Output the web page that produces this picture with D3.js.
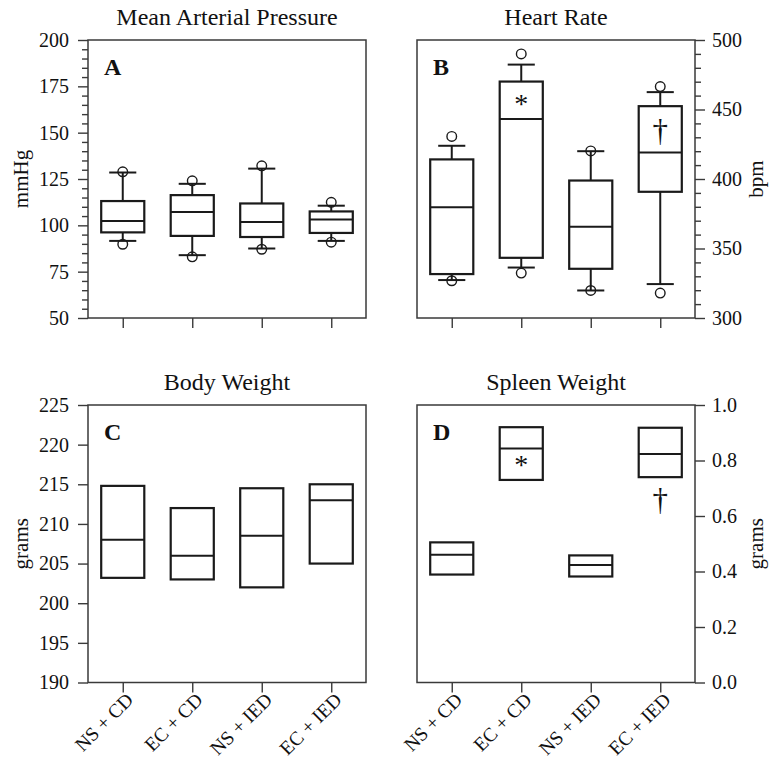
<!DOCTYPE html>
<html>
<head>
<meta charset="utf-8">
<script src="https://cdn.jsdelivr.net/npm/d3@7"></script>
<style>
  html, body { margin: 0; padding: 0; background: #fff; }
  svg { display: block; }
  text { font-family: "Liberation Serif", "Times New Roman", serif; fill: #111; }
</style>
</head>
<body>
<svg id="chart" width="771" height="761"></svg>
<script>
// ---------- DATA ----------
const groups = ["NS + CD", "EC + CD", "NS + IED", "EC + IED"];

// Mean Arterial Pressure (mmHg)
const mapQ1      = [96.2, 94.3, 93.7, 95.9];
const mapMedian  = [102.3, 107.2, 101.8, 103.2];
const mapQ3      = [113.1, 116.3, 111.8, 107.5];
const mapWhiskLo = [91.6, 83.9, 87.5, 91.6];
const mapWhiskHi = [128.5, 122.4, 130.6, 110.6];
const mapOutLo   = [89.8, 83.0, 87.1, 90.9];
const mapOutHi   = [128.9, 124.0, 132.1, 112.4];
const mapTicks   = [50, 75, 100, 125, 150, 175, 200];

// Heart Rate (bpm)
const hrQ1      = [331.6, 343.3, 335.4, 390.8];
const hrMedian  = [379.7, 443.1, 365.7, 419.0];
const hrQ3      = [414.1, 470.1, 398.9, 452.4];
const hrWhiskLo = [327.3, 336.3, 319.8, 324.4];
const hrWhiskHi = [423.9, 482.3, 420.0, 462.5];
const hrOutLo   = [326.8, 332.3, 319.8, 317.9];
const hrOutHi   = [430.6, 490.0, 420.2, 466.5];
const hrTicks   = [300, 350, 400, 450, 500];
const hrMarks   = ["", "*", "", "\u2020"];
const hrMarkAt  = [null, 455, null, 434];

// Body Weight (grams)
const bwQ1     = [203.2, 203.0, 202.0, 205.0];
const bwMedian = [208.0, 206.0, 208.5, 213.0];
const bwQ3     = [214.8, 212.0, 214.5, 215.0];
const bwTicks  = [190, 195, 200, 205, 210, 215, 220, 225];

// Spleen Weight (grams)
const swQ1     = [0.389, 0.730, 0.382, 0.740];
const swMedian = [0.460, 0.843, 0.423, 0.823];
const swQ3     = [0.505, 0.920, 0.458, 0.918];
const swTicks  = [0.0, 0.2, 0.4, 0.6, 0.8, 1.0];
const swMarks  = ["", "*", "", "\u2020"];
const swMarkAt = [null, 0.786, null, 0.654];

// ---------- DRAWING ----------
const svg = d3.select("#chart");
const INK = "#1a1a1a";
const AX = "#3a3a3a";

function panel(o) {
  const g = svg.append("g");
  const x = d3.scalePoint().domain(groups).range([o.x0, o.x1]).padding(0.5);
  const y = d3.scaleLinear().domain(o.domain).range([o.y1, o.y0]);
  const step = x.step();
  const bw = step * 0.62, cw = step * 0.39;

  // y axis (major)
  const onRight = o.side === "right";
  const axMaj = (onRight ? d3.axisRight(y) : d3.axisLeft(y))
      .tickValues(o.ticks).tickSize(10).tickPadding(onRight ? 7 : 9)
      .tickFormat(o.fmt);
  const ga = g.append("g").attr("transform", `translate(${onRight ? o.x1 : o.x0},0)`).call(axMaj);
  ga.select(".domain").remove();
  ga.selectAll("line").attr("stroke", AX).attr("stroke-width", 1.4);
  ga.selectAll("text").style("font-size", "20px").style("font-family", "Liberation Serif").attr("fill", "#111");
  if (o.minor) {
    const axMin = (onRight ? d3.axisRight(y) : d3.axisLeft(y))
        .tickValues(o.minor).tickSize(6).tickFormat("");
    const gm = g.append("g").attr("transform", `translate(${onRight ? o.x1 : o.x0},0)`).call(axMin);
    gm.select(".domain").remove();
    gm.selectAll("line").attr("stroke", AX).attr("stroke-width", 1.4);
  }
  // x axis
  const axX = d3.axisBottom(x).tickSize(10).tickFormat("");
  const gx = g.append("g").attr("transform", `translate(0,${o.y1})`).call(axX);
  gx.select(".domain").remove();
  gx.selectAll("line").attr("stroke", AX).attr("stroke-width", 1.4);
  if (o.xlabels) {
    g.selectAll(".xl").data(groups).enter().append("text")
      .attr("transform", d => `translate(${x(d) + 7},${o.y1 + 14}) rotate(-45)`)
      .attr("text-anchor", "end")
      .attr("dominant-baseline", "central")
      .style("font-size", "19.5px")
      .text(d => d);
  }
  // frame
  g.append("rect").attr("x", o.x0).attr("y", o.y0)
    .attr("width", o.x1 - o.x0).attr("height", o.y1 - o.y0)
    .attr("fill", "none").attr("stroke", AX).attr("stroke-width", 1.5);

  // whiskers & outliers
  if (o.wlo) {
    groups.forEach((gname, i) => {
      const cx = x(gname);
      g.append("line").attr("x1", cx).attr("x2", cx)
        .attr("y1", y(o.q3[i])).attr("y2", y(o.whi[i]))
        .attr("stroke", INK).attr("stroke-width", 2);
      g.append("line").attr("x1", cx).attr("x2", cx)
        .attr("y1", y(o.q1[i])).attr("y2", y(o.wlo[i]))
        .attr("stroke", INK).attr("stroke-width", 2);
      [o.wlo[i], o.whi[i]].forEach(v => {
        g.append("line").attr("x1", cx - cw / 2).attr("x2", cx + cw / 2)
          .attr("y1", y(v)).attr("y2", y(v))
          .attr("stroke", INK).attr("stroke-width", 2);
      });
      [o.olo[i], o.ohi[i]].forEach(v => {
        g.append("circle").attr("cx", cx).attr("cy", y(v)).attr("r", 4.8)
          .attr("fill", "none").attr("stroke", INK).attr("stroke-width", 1.4);
      });
    });
  }
  // boxes
  groups.forEach((gname, i) => {
    const cx = x(gname);
    g.append("rect").attr("x", cx - bw / 2).attr("y", y(o.q3[i]))
      .attr("width", bw).attr("height", y(o.q1[i]) - y(o.q3[i]))
      .attr("fill", "none").attr("stroke", INK).attr("stroke-width", 2.2);
    g.append("line").attr("x1", cx - bw / 2).attr("x2", cx + bw / 2)
      .attr("y1", y(o.med[i])).attr("y2", y(o.med[i]))
      .attr("stroke", INK).attr("stroke-width", 2);
  });
  // significance marks
  if (o.marks) {
    groups.forEach((gname, i) => {
      const m = o.marks[i];
      if (!m) return;
      const cx = x(gname), cy = y(o.markAt[i]);
      if (m === "*") {
        g.append("text").attr("x", cx).attr("y", cy + 10)
          .attr("text-anchor", "middle").style("font-size", "28px").text(m);
      } else {
        g.append("text").attr("x", cx).attr("y", cy + 9)
          .attr("text-anchor", "middle").style("font-size", "31px")
          .attr("fill", "#111").text(m);
      }
    });
  }
  // title
  g.append("text").attr("x", (o.x0 + o.x1) / 2).attr("y", o.y0 - 15)
    .attr("text-anchor", "middle").style("font-size", "24px").text(o.title);
  // panel letter
  g.append("text").attr("x", o.x0 + 16).attr("y", o.y0 + 35)
    .style("font-size", "24px").style("font-weight", "bold").text(o.letter);
  // y label
  const lx = onRight ? 763 : 28;
  g.append("text").attr("transform", `translate(${lx},${(o.y0 + o.y1) / 2}) rotate(-90)`)
    .attr("text-anchor", "middle").style("font-size", "21px").text(o.ylab);
}

const L = [88, 366], R = [417, 695], T = [40, 318], B = [405, 682.5];

panel({ x0: L[0], x1: L[1], y0: T[0], y1: T[1], domain: [50, 200],
  ticks: mapTicks, minor: d3.range(55, 200, 5).filter(v => v % 25 !== 0),
  fmt: d3.format("d"), side: "left", title: "Mean Arterial Pressure", letter: "A", ylab: "mmHg",
  q1: mapQ1, med: mapMedian, q3: mapQ3, wlo: mapWhiskLo, whi: mapWhiskHi, olo: mapOutLo, ohi: mapOutHi });

panel({ x0: R[0], x1: R[1], y0: T[0], y1: T[1], domain: [300, 500],
  ticks: hrTicks, minor: d3.range(310, 500, 10).filter(v => v % 50 !== 0),
  fmt: d3.format("d"), side: "right", title: "Heart Rate", letter: "B", ylab: "bpm",
  q1: hrQ1, med: hrMedian, q3: hrQ3, wlo: hrWhiskLo, whi: hrWhiskHi, olo: hrOutLo, ohi: hrOutHi,
  marks: hrMarks, markAt: hrMarkAt });

panel({ x0: L[0], x1: L[1], y0: B[0], y1: B[1], domain: [190, 225],
  ticks: bwTicks, fmt: d3.format("d"), side: "left", title: "Body Weight", letter: "C", ylab: "grams",
  q1: bwQ1, med: bwMedian, q3: bwQ3, xlabels: true });

panel({ x0: R[0], x1: R[1], y0: B[0], y1: B[1], domain: [0, 1],
  ticks: swTicks, fmt: d3.format(".1f"), side: "right", title: "Spleen Weight", letter: "D", ylab: "grams",
  q1: swQ1, med: swMedian, q3: swQ3, xlabels: true, marks: swMarks, markAt: swMarkAt });
</script>
</body>
</html>
